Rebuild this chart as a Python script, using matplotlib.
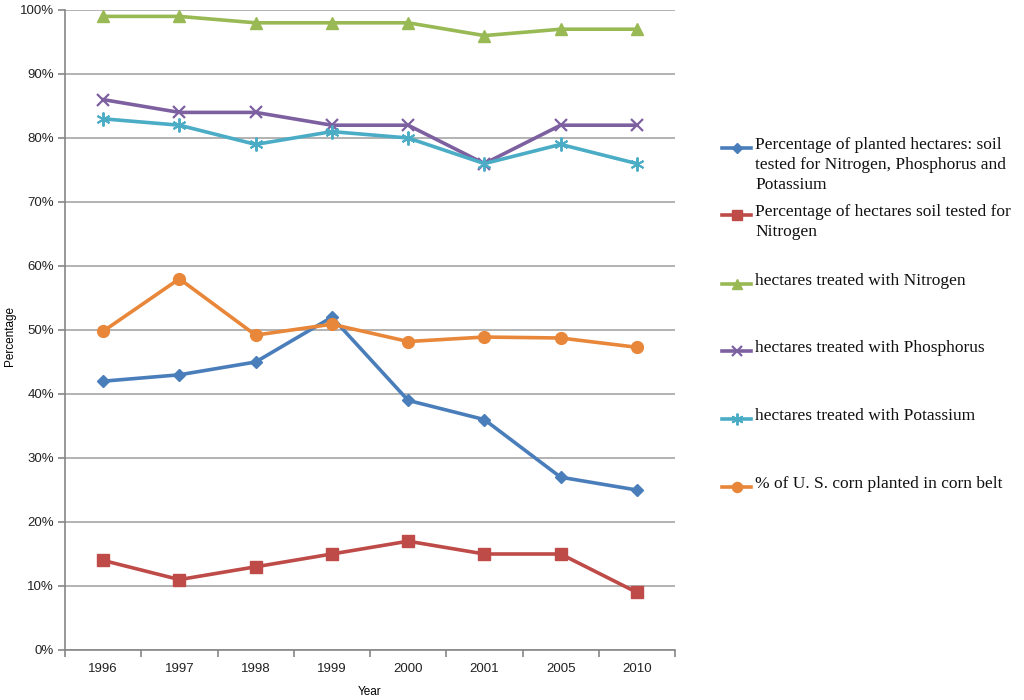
import matplotlib
matplotlib.use("Agg")
import matplotlib.pyplot as plt
from matplotlib.lines import Line2D
from matplotlib.ticker import FixedLocator, PercentFormatter

# ── data ────────────────────────────────────────────────────
years = ["1996", "1997", "1998", "1999", "2000", "2001", "2005", "2010"]

soil_npk = [42, 43, 45, 52, 39, 36, 27, 25]
soil_n = [14, 11, 13, 15, 17, 15, 15, 9]
treated_n = [99, 99, 98, 98, 98, 96, 97, 97]
treated_p = [86, 84, 84, 82, 82, 76, 82, 82]
treated_k = [83, 82, 79, 81, 80, 76, 79, 76]
corn_belt = [49.8, 58, 49.2, 50.9, 48.2, 48.9, 48.75, 47.3]

labels = [
    "Percentage of planted hectares: soil\ntested for Nitrogen, Phosphorus and\nPotassium",
    "Percentage of hectares soil tested for\nNitrogen",
    "hectares treated with Nitrogen",
    "hectares treated with Phosphorus",
    "hectares treated with Potassium",
    "% of U. S. corn planted in corn belt",
]

# ── styles (Excel 2007 palette) ─────────────────────────────
styles = [
    dict(color="#4A7EBB", marker="D", ms=6.5),
    dict(color="#BE4B48", marker="s", ms=8),
    dict(color="#98B954", marker="^", ms=9),
    dict(color="#7D60A0", marker="x", ms=8, mew=1.6),
    dict(color="#4BACC6", marker=(6, 2, 0), ms=10, mew=1.4),
    dict(color="#E8873A", marker="o", ms=8.5),
]

series = [soil_npk, soil_n, treated_n, treated_p, treated_k, corn_belt]

fig = plt.figure(figsize=(10.24, 7.0), dpi=100)
ax = fig.add_axes([65 / 1024, 1 - 650 / 700, 610 / 1024, 640 / 700])

xpos = list(range(len(years)))
handles = []
for vals, st in zip(series, styles):
    (ln,) = ax.plot(xpos, vals, lw=2.6, solid_joinstyle="round", zorder=3, **st)
    handles.append(ln)

ax.set_xlim(-0.5, len(years) - 0.5)
ax.set_ylim(0, 100)
ax.set_yticks(range(0, 101, 10))
ax.yaxis.set_major_formatter(PercentFormatter(decimals=0))
ax.grid(axis="y", color="#A6A6A6", lw=1.2, zorder=0)

# category labels between boundary ticks
ax.set_xticks(xpos)
ax.set_xticklabels(years)
ax.tick_params(axis="x", which="major", length=0, pad=9)
ax.xaxis.set_minor_locator(FixedLocator([i - 0.5 for i in range(len(years) + 1)]))
ax.tick_params(axis="x", which="minor", length=5, color="#868686", width=1.2)
ax.tick_params(axis="y", length=5, color="#868686", width=1.2, pad=3)
ax.tick_params(labelsize=9.5, labelcolor="#222222")
for lbl in ax.get_xticklabels() + ax.get_yticklabels():
    lbl.set_family("Liberation Sans")

for side in ["top", "right"]:
    ax.spines[side].set_visible(False)
for side in ["left", "bottom"]:
    ax.spines[side].set_color("#868686")
    ax.spines[side].set_linewidth(1.2)

ax.set_xlabel("Year", fontsize=8.5, family="Liberation Sans", labelpad=8)
ax.set_ylabel("Percentage", fontsize=8.5, family="Liberation Sans")
ax.yaxis.set_label_coords(-0.08, 0.49)

# ── legend drawn by hand: fixed pitch per entry, no frame ───
entry_y = [148, 215, 284, 351, 419, 487]
for h, lab, y in zip(handles, labels, entry_y):
    yf = 1 - y / 700
    fig.add_artist(Line2D([722 / 1024, 751 / 1024], [yf, yf], transform=fig.transFigure,
                          color=h.get_color(), lw=2.6))
    fig.add_artist(Line2D([736.5 / 1024], [yf], transform=fig.transFigure,
                          color=h.get_color(), marker=h.get_marker(),
                          ms=h.get_markersize() * 0.85, mew=h.get_markeredgewidth(), lw=0))
    fig.text(755 / 1024, 1 - (y - 11) / 700, lab, fontsize=12.5, family="Liberation Serif",
             va="top", ha="left", color="#111111", linespacing=1.35)

fig.savefig("out.png", dpi=100)
